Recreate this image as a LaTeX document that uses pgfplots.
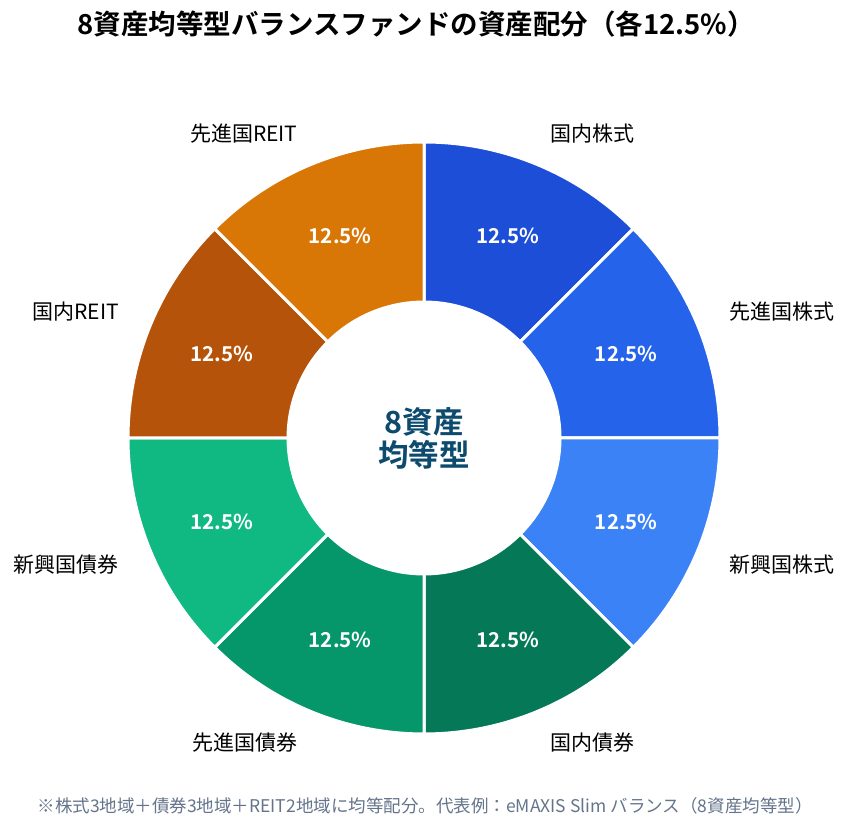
\documentclass[border=0pt]{standalone}
\usepackage{pgfplots}
\pgfplotsset{compat=1.18}
\usepackage{pgfplotstable}
\usepackage{fontspec}
\setmainfont{Noto Sans CJK JP}
\newfontfamily\jpbold{Noto Sans CJK JP Bold}

\definecolor{c1}{HTML}{1D4ED8}
\definecolor{c2}{HTML}{2563EB}
\definecolor{c3}{HTML}{3B82F6}
\definecolor{c4}{HTML}{047857}
\definecolor{c5}{HTML}{059669}
\definecolor{c6}{HTML}{10B981}
\definecolor{c7}{HTML}{B45309}
\definecolor{c8}{HTML}{D97706}
\definecolor{centertxt}{HTML}{0C4A6E}
\definecolor{notetxt}{HTML}{64748B}

% asset classes, weight in percent, slice colour
\pgfplotstableread[col sep=comma]{
name,value,colour
国内株式,12.5,c1
先進国株式,12.5,c2
新興国株式,12.5,c3
国内債券,12.5,c4
先進国債券,12.5,c5
新興国債券,12.5,c6
国内REIT,12.5,c7
先進国REIT,12.5,c8
}\alloc

\def\cx{424}
\def\cy{396}
\def\Rout{296}
\def\Rin{136}
\def\Rpct{219}
\def\Rlab{330}

\begin{document}
\begin{tikzpicture}
\begin{axis}[
  x=1pt, y=1pt,
  xmin=0, xmax=848, ymin=0, ymax=834,
  hide axis, clip=false,
]
\pgfplotstablegetrowsof{\alloc}
\pgfmathtruncatemacro{\nrows}{\pgfplotsretval-1}
\def\cum{0}
\pgfplotsforeachungrouped \i in {0,...,\nrows}{%
  \pgfplotstablegetelem{\i}{value}\of{\alloc}\let\val\pgfplotsretval
  \pgfplotstablegetelem{\i}{colour}\of{\alloc}\let\col\pgfplotsretval
  \pgfplotstablegetelem{\i}{name}\of{\alloc}\let\nm\pgfplotsretval
  \pgfmathsetmacro{\aS}{90-\cum*3.6}
  \pgfmathsetmacro{\aE}{90-(\cum+\val)*3.6}
  \pgfmathsetmacro{\aM}{(\aS+\aE)/2}
  \pgfmathsetmacro{\cum}{\cum+\val}
  \xdef\cum{\cum}
  \pgfmathsetmacro{\px}{\cx+\Rpct*cos(\aM)}
  \pgfmathsetmacro{\py}{\cy+\Rpct*sin(\aM)}
  \pgfmathsetmacro{\lx}{\cx+\Rlab*cos(\aM)}
  \pgfmathsetmacro{\ly}{\cy+\Rlab*sin(\aM)}
  \pgfmathsetmacro{\side}{cos(\aM)>0 ? 1 : 0}
  \ifdim\side pt>0.5pt \def\anch{west}\else\def\anch{east}\fi
  \edef\doslice{%
    \noexpand\addplot[fill=\col, draw=white, line width=3pt, line join=miter,
      domain=\aE:\aS, samples=60, variable=\noexpand\t]
      ({\cx+\Rout*cos(\noexpand\t)},{\cy+\Rout*sin(\noexpand\t)})
      -- (axis cs:\cx,\cy) -- cycle;
    \noexpand\node[text=white, font=\noexpand\jpbold\noexpand\fontsize{20.5}{24}\noexpand\selectfont]
      at (axis cs:\px,\py) {\val\noexpand\%};
    \noexpand\node[anchor=\anch, font=\noexpand\fontsize{21}{24}\noexpand\selectfont, inner sep=0pt]
      at (axis cs:\lx,\ly) {\nm};
  }%
  \doslice
}
% hole of the ring
\addplot[fill=white, draw=white, line width=3pt, domain=0:360, samples=120, variable=\t]
  ({\cx+\Rin*cos(\t)},{\cy+\Rin*sin(\t)}) -- cycle;
\node[text=centertxt, font=\jpbold\fontsize{30.5}{33}\selectfont, align=center]
  at (axis cs:\cx,\cy) {8資産\\均等型};
\node[font=\jpbold\fontsize{27.5}{30}\selectfont] at (axis cs:416,810)
  {8資産均等型バランスファンドの資産配分（各12.5\%）};
\node[text=notetxt, font=\fontsize{17.5}{20}\selectfont] at (axis cs:425,28)
  {※株式3地域＋債券3地域＋REIT2地域に均等配分。代表例：eMAXIS Slim バランス（8資産均等型）};
\end{axis}
\pgfresetboundingbox
\path (current axis.south west) rectangle (current axis.north east);
\end{tikzpicture}
\end{document}
